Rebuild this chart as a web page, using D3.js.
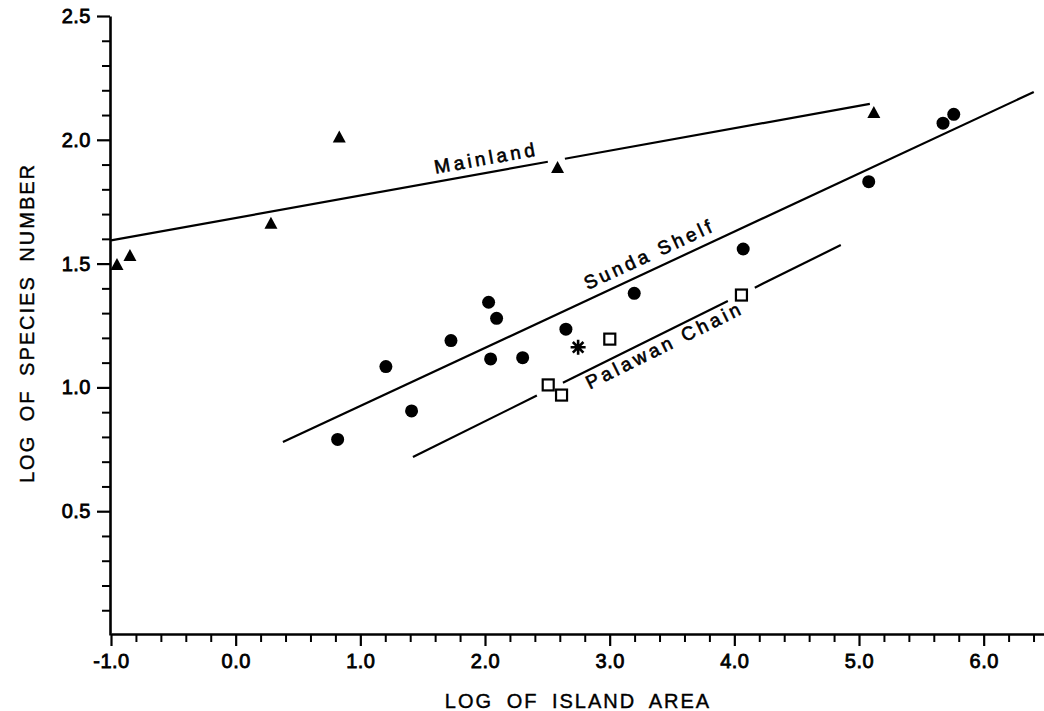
<!DOCTYPE html>
<html>
<head>
<meta charset="utf-8">
<script src="https://cdn.jsdelivr.net/npm/d3@7/dist/d3.min.js"></script>
<style>
  body { margin: 0; background: #fff; }
  svg text { font-family: "Liberation Sans", Arial, Helvetica, sans-serif; fill: #000; }
</style>
</head>
<body>
<div id="chart"></div>
<script>
// log of island area (x) vs log of species number (y)
let mainlandX = [-0.952, -0.848, 0.283, 0.831, 2.582, 5.119];
let mainlandY = [1.498, 1.535, 1.665, 2.013, 1.890, 2.112];

let sundaX = [0.818, 1.205, 1.411, 1.727, 2.029, 2.093, 2.045, 2.302, 2.649, 3.197, 4.071, 5.078, 5.674, 5.760];
let sundaY = [0.790, 1.084, 0.905, 1.189, 1.344, 1.279, 1.115, 1.120, 1.235, 1.380, 1.559, 1.831, 2.067, 2.103];

let palawanX = [2.507, 2.614, 3.001, 4.057];
let palawanY = [1.010, 0.969, 1.195, 1.373];

let otherX = [2.747];
let otherY = [1.162];

// regression lines: start x, start y, end x, end y
let mainlandFit = [-1.0, 1.594, 5.087, 2.145];
let sundaFit = [0.379, 0.779, 6.402, 2.193];
let palawanFit = [1.422, 0.719, 4.854, 1.575];

// breaks left in the lines around markers
let mainlandGaps = [[2.504, 2.641]];
let sundaGaps = [];
let palawanGaps = [[2.416, 2.625], [3.948, 4.164]];

let lineNames = ['Mainland', 'Sunda Shelf', 'Palawan Chain'];

let xTickValues = [-1, 0, 1, 2, 3, 4, 5, 6];
let xTickLabels = ['-1.0', '0.0', '1.0', '2.0', '3.0', '4.0', '5.0', '6.0'];
let yTickValues = [0.5, 1.0, 1.5, 2.0, 2.5];
let yTickLabels = ['0.5', '1.0', '1.5', '2.0', '2.5'];

let xTitle = 'LOG OF ISLAND AREA';
let yTitle = 'LOG OF SPECIES NUMBER';

let width = 1044;
let height = 711;

let x = d3.scaleLinear().domain([-1, 6.5]).range([111, 1046]);
let y = d3.scaleLinear().domain([0, 2.5]).range([635, 16]);

let svg = d3.select('#chart')
  .append('svg')
    .attr('width', width)
    .attr('height', height);

// minor ticks first, majors on top
let xMinor = d3.range(-0.8, 6.5, 0.2).filter(v => Math.abs(v - Math.round(v)) > 0.01);
let yMinor = d3.range(0.1, 2.5, 0.1).filter(v => Math.abs(v * 2 - Math.round(v * 2)) > 0.01);

svg.append('g')
  .attr('transform', 'translate(0,634)')
  .call(d3.axisBottom(x).tickValues(xMinor).tickSize(8).tickSizeOuter(0).tickFormat(''))
  .call(g => g.select('.domain').remove())
  .call(g => g.selectAll('line').attr('stroke-width', 2));

svg.append('g')
  .attr('transform', 'translate(110,0)')
  .call(d3.axisLeft(y).tickValues(yMinor).tickSize(8).tickSizeOuter(0).tickFormat(''))
  .call(g => g.select('.domain').remove())
  .call(g => g.selectAll('line').attr('stroke-width', 2));

let xAxis = d3.axisBottom(x)
  .tickValues(xTickValues)
  .tickFormat((d, i) => xTickLabels[i])
  .tickSize(12)
  .tickSizeOuter(0)
  .tickPadding(8);

let yAxis = d3.axisLeft(y)
  .tickValues(yTickValues)
  .tickFormat((d, i) => yTickLabels[i])
  .tickSize(13)
  .tickSizeOuter(0)
  .tickPadding(6);

function styleAxis(g) {
  g.select('.domain').attr('stroke-width', 2.6);
  g.selectAll('line').attr('stroke-width', 2.2);
  g.selectAll('text')
    .style('font-size', '20px')
    .style('letter-spacing', '0.5px')
    .attr('stroke', '#000')
    .attr('stroke-width', 0.8);
}

svg.append('g')
  .attr('transform', 'translate(0,634)')
  .call(xAxis)
  .call(styleAxis);

svg.append('g')
  .attr('transform', 'translate(110,0)')
  .call(yAxis)
  .call(styleAxis);

svg.append('text')
  .attr('x', 578)
  .attr('y', 708)
  .attr('text-anchor', 'middle')
  .style('font-size', '20px')
  .style('letter-spacing', '2px')
  .style('word-spacing', '6px')
  .attr('stroke', '#000')
  .attr('stroke-width', 0.4)
  .text(xTitle);

svg.append('text')
  .attr('transform', 'translate(34,323) rotate(-90)')
  .attr('text-anchor', 'middle')
  .style('font-size', '20px')
  .style('letter-spacing', '2px')
  .style('word-spacing', '6px')
  .attr('stroke', '#000')
  .attr('stroke-width', 0.4)
  .text(yTitle);

// regression lines, broken where the reference leaves gaps
function pieces(fit, gaps) {
  let [x0, y0, x1, y1] = fit;
  let at = v => y0 + (y1 - y0) * (v - x0) / (x1 - x0);
  let cuts = [x0];
  gaps.forEach(g => cuts.push(g[0], g[1]));
  cuts.push(x1);
  let out = [];
  for (let ii = 0; ii < cuts.length; ii += 2) {
    out.push([[cuts[ii], at(cuts[ii])], [cuts[ii + 1], at(cuts[ii + 1])]]);
  }
  return out;
}

let line = d3.line()
  .x(d => x(d[0]))
  .y(d => y(d[1]));

let fits = [
  {name: lineNames[0], fit: mainlandFit, gaps: mainlandGaps, labelAt: 2.03, offset: -8},
  {name: lineNames[1], fit: sundaFit, gaps: sundaGaps, labelAt: 3.37, offset: -9},
  {name: lineNames[2], fit: palawanFit, gaps: palawanGaps, labelAt: 3.40, offset: 18},
];

fits.forEach(f => {
  svg.append('g')
    .selectAll('path')
    .data(pieces(f.fit, f.gaps))
    .enter()
    .append('path')
      .attr('d', line)
      .attr('fill', 'none')
      .attr('stroke', '#000')
      .attr('stroke-width', 2.2);

  let [x0, y0, x1, y1] = f.fit;
  let ly = y0 + (y1 - y0) * (f.labelAt - x0) / (x1 - x0);
  let angle = Math.atan2(y(y1) - y(y0), x(x1) - x(x0)) * 180 / Math.PI;
  svg.append('text')
    .attr('transform', `translate(${x(f.labelAt)},${y(ly)}) rotate(${angle}) translate(0,${f.offset})`)
    .attr('text-anchor', 'middle')
    .style('font-size', '19px')
    .style('letter-spacing', '3.5px')
    .attr('stroke', '#000')
    .attr('stroke-width', 0.6)
    .text(f.name);
});

// markers
let triangle = {
  draw(ctx, size) {
    let w = 13, h = 12;
    ctx.moveTo(0, -h / 2);
    ctx.lineTo(w / 2, h / 2);
    ctx.lineTo(-w / 2, h / 2);
    ctx.closePath();
  }
};

let asterisk = {
  draw(ctx, size) {
    let r = 7.5;
    for (let k = 0; k < 4; k++) {
      let a = k * Math.PI / 4;
      ctx.moveTo(-r * Math.cos(a), -r * Math.sin(a));
      ctx.lineTo(r * Math.cos(a), r * Math.sin(a));
    }
  }
};

svg.append('g')
  .selectAll('path')
  .data(d3.zip(mainlandX, mainlandY))
  .enter()
  .append('path')
    .attr('transform', d => `translate(${x(d[0])},${y(d[1])})`)
    .attr('d', d3.symbol().type(triangle))
    .attr('fill', '#000');

svg.append('g')
  .selectAll('circle')
  .data(d3.zip(sundaX, sundaY))
  .enter()
  .append('circle')
    .attr('cx', d => x(d[0]))
    .attr('cy', d => y(d[1]))
    .attr('r', 6.5)
    .attr('fill', '#000');

svg.append('g')
  .selectAll('rect')
  .data(d3.zip(palawanX, palawanY))
  .enter()
  .append('rect')
    .attr('x', d => x(d[0]) - 5.5)
    .attr('y', d => y(d[1]) - 5.5)
    .attr('width', 11)
    .attr('height', 11)
    .attr('fill', '#fff')
    .attr('stroke', '#000')
    .attr('stroke-width', 2.2);

svg.append('g')
  .selectAll('path')
  .data(d3.zip(otherX, otherY))
  .enter()
  .append('path')
    .attr('transform', d => `translate(${x(d[0])},${y(d[1])})`)
    .attr('d', d3.symbol().type(asterisk))
    .attr('fill', 'none')
    .attr('stroke', '#000')
    .attr('stroke-width', 2.6);
</script>
</body>
</html>
